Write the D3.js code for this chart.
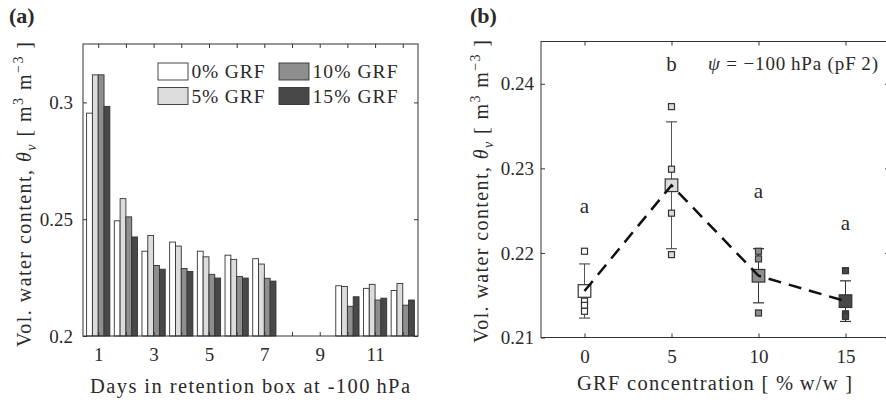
<!DOCTYPE html>
<html>
<head>
<meta charset="utf-8">
<script src="https://cdn.jsdelivr.net/npm/d3@7/dist/d3.min.js"></script>
<style>
  html, body { margin: 0; padding: 0; background: #fff; }
  svg { display: block; }
  text { font-family: "Liberation Serif", "DejaVu Serif", serif; fill: #2a2a2a; }
</style>
</head>
<body>
<svg id="chart" width="886" height="400"></svg>
<script>
// ---- Panel (a): volumetric water content per day ----
const days = [1, 2, 3, 4, 5, 6, 7, 8, 9, 10, 11, 12];
const seriesNames = ["0% GRF", "5% GRF", "10% GRF", "15% GRF"];
const grf0  = [0.2954, 0.2493, 0.2363, 0.2402, 0.2363, 0.2346, 0.2331, null, null, 0.2215, 0.2204, 0.2195];
const grf5  = [0.3118, 0.2588, 0.2430, 0.2385, 0.2339, 0.2328, 0.2308, null, null, 0.2212, 0.2221, 0.2225];
const grf10 = [0.3118, 0.2510, 0.2302, 0.2289, 0.2264, 0.2255, 0.2247, null, null, 0.2127, 0.2154, 0.2132];
const grf15 = [0.2983, 0.2424, 0.2286, 0.2276, 0.2248, 0.2248, 0.2235, null, null, 0.2168, 0.2162, 0.2154];
const dayTickLabels = [1, 3, 5, 7, 9, 11];
const thetaTicksA = [0.2, 0.25, 0.3];

// ---- Panel (b): water content at -100 hPa vs GRF concentration ----
const concentrations = [0, 5, 10, 15];
const replicates = [
  [0.2202, 0.2143, 0.2138, 0.2131],
  [0.2373, 0.2299, 0.2247, 0.2198],
  [0.2202, 0.2193, 0.2170, 0.2129],
  [0.2179, 0.2143, 0.2128, 0.2125]
];
const means = [0.2155, 0.2280, 0.2173, 0.2143];
const stdDevs = [0.0032, 0.0075, 0.0032, 0.0024];
const groupLetters = ["a", "b", "a", "a"];
const thetaTicksB = [0.21, 0.22, 0.23, 0.24];
const concTicks = [0, 5, 10, 15];

const fills = ["#ffffff", "#dcdcdc", "#8e8e8e", "#484848"];
const ink = "#333";

const svg = d3.select("#chart");

// rich text helper: pieces of [text, style] where style in {"", "i", "isub", "sup"}
function richText(sel, pieces, size) {
  let shift = 0;
  pieces.forEach(([t, st]) => {
    const ts = sel.append("tspan").text(t);
    let target = 0, fs = size;
    if (st === "isub") { target = size * 0.25; fs = size * 0.7; }
    if (st === "sup") { target = -size * 0.42; fs = size * 0.7; }
    ts.attr("font-size", fs);
    if (st === "i" || st === "isub") ts.attr("font-style", "italic");
    if (target !== shift) { ts.attr("dy", target - shift); shift = target; }
  });
}

function styleAxis(g, size) {
  g.select(".domain").remove();
  g.selectAll(".tick line").attr("stroke", ink);
  g.selectAll(".tick text").attr("font-size", size || 19).attr("fill", "#2a2a2a")
    .attr("font-family", "Liberation Serif, serif");
}

// ================= Panel (a) =================
const ax = { left: 83, right: 418, top: 44, bottom: 336 };
const xA = d3.scaleLinear().domain([0.45, 12.55]).range([ax.left, ax.right]);
const yA = d3.scaleLinear().domain([0.2, 0.325]).range([ax.bottom, ax.top]);
const barW = 0.21;
const seriesA = [grf0, grf5, grf10, grf15];

const gA = svg.append("g");
seriesA.forEach((vals, si) => {
  gA.append("g").selectAll("rect")
    .data(days.map((d, i) => ({ d, v: vals[i] })).filter(o => o.v !== null))
    .join("rect")
    .attr("x", o => xA(o.d + (si - 2) * barW))
    .attr("width", xA(barW) - xA(0))
    .attr("y", o => yA(o.v))
    .attr("height", o => yA(0.2) - yA(o.v))
    .attr("fill", fills[si])
    .attr("stroke", ink)
    .attr("stroke-width", 0.9);
});

gA.append("g").attr("transform", `translate(0,${ax.bottom})`)
  .call(d3.axisBottom(xA).tickValues(days).tickSizeInner(-4).tickSizeOuter(0).tickPadding(12)
    .tickFormat(d => dayTickLabels.includes(d) ? d : ""))
  .call(g => styleAxis(g, 19));
gA.append("g").attr("transform", `translate(0,${ax.top})`)
  .call(d3.axisTop(xA).tickValues(days).tickSizeInner(-4).tickSizeOuter(0).tickFormat(""))
  .call(styleAxis);
gA.append("g").attr("transform", `translate(${ax.left},0)`)
  .call(d3.axisLeft(yA).tickValues(thetaTicksA).tickSizeInner(-4).tickSizeOuter(0).tickPadding(10)
    .tickFormat(d3.format("~g")))
  .call(g => styleAxis(g, 19));
gA.append("g").attr("transform", `translate(${ax.right},0)`)
  .call(d3.axisRight(yA).tickValues(thetaTicksA).tickSizeInner(-4).tickSizeOuter(0).tickFormat(""))
  .call(styleAxis);
gA.append("rect").attr("x", ax.left).attr("y", ax.top)
  .attr("width", ax.right - ax.left).attr("height", ax.bottom - ax.top)
  .attr("fill", "none").attr("stroke", ink).attr("stroke-width", 1);

// legend (2 x 2)
const legPos = [[158, 63], [158, 87.5], [279, 63], [279, 87.5]];
const legTextLen = [73, 73, 85, 85];
seriesNames.forEach((name, i) => {
  const [lx, ly] = legPos[i];
  gA.append("rect").attr("x", lx).attr("y", ly).attr("width", 30).attr("height", 17)
    .attr("fill", fills[i]).attr("stroke", ink).attr("stroke-width", 0.9);
  gA.append("text").attr("x", lx + 33.5).attr("y", ly + 15).attr("font-size", 19.5)
    .attr("textLength", legTextLen[i]).attr("lengthAdjust", "spacing").text(name);
});

gA.append("text").attr("x", 90).attr("y", 393)
  .attr("font-size", 20.5).attr("textLength", 320).attr("lengthAdjust", "spacing")
  .text("Days in retention box at -100\u2009hPa");

const ylabPieces = [["Vol.  water content, ", ""], ["θ", "i"], ["v", "isub"], ["  [ m", ""], ["3", "sup"], [" m", ""], ["−3", "sup"], [" ]", ""]];
const ylabA = gA.append("text").attr("transform", "translate(31,347) rotate(-90)")
  .attr("textLength", 305).attr("lengthAdjust", "spacing");
richText(ylabA, ylabPieces, 20);

svg.append("text").attr("x", 9).attr("y", 23).attr("font-size", 22).attr("font-weight", "bold").text("(a)");

// ================= Panel (b) =================
const bx = { left: 541, right: 889, top: 41.5, bottom: 337.5 };
const xB = d3.scaleLinear().domain([-2.5, 17.5]).range([bx.left, bx.right]);
const yB = d3.scaleLinear().domain([0.21, 0.245]).range([bx.bottom, bx.top]);
const gB = svg.append("g");

gB.append("g").attr("transform", `translate(0,${bx.bottom})`)
  .call(d3.axisBottom(xB).tickValues(concTicks).tickSizeInner(-4).tickSizeOuter(0).tickPadding(12))
  .call(g => styleAxis(g, 19));
gB.append("g").attr("transform", `translate(0,${bx.top})`)
  .call(d3.axisTop(xB).tickValues(concTicks).tickSizeInner(-4).tickSizeOuter(0).tickFormat(""))
  .call(styleAxis);
gB.append("g").attr("transform", `translate(${bx.left},0)`)
  .call(d3.axisLeft(yB).tickValues(thetaTicksB).tickSizeInner(-4).tickSizeOuter(0).tickPadding(7)
    .tickFormat(d3.format(".2f")))
  .call(g => styleAxis(g, 19));
gB.append("g").attr("transform", `translate(${bx.right},0)`)
  .call(d3.axisRight(yB).tickValues(thetaTicksB).tickSizeInner(-4).tickSizeOuter(0).tickFormat(""))
  .call(styleAxis);
gB.append("rect").attr("x", bx.left).attr("y", bx.top)
  .attr("width", bx.right - bx.left).attr("height", bx.bottom - bx.top)
  .attr("fill", "none").attr("stroke", ink).attr("stroke-width", 1);

// error bars (mean ± standard deviation)
concentrations.forEach((c, i) => {
  const cx = xB(c), y1 = yB(means[i] + stdDevs[i]), y2 = yB(means[i] - stdDevs[i]);
  const col = i < 2 ? "#555" : "#333";
  gB.append("line").attr("x1", cx).attr("x2", cx).attr("y1", y1).attr("y2", y2)
    .attr("stroke", col).attr("stroke-width", 1);
  [y1, y2].forEach(yy => gB.append("line").attr("x1", cx - 5.5).attr("x2", cx + 5.5)
    .attr("y1", yy).attr("y2", yy).attr("stroke", col).attr("stroke-width", 1.2));
});

// replicate measurements
concentrations.forEach((c, i) => {
  gB.append("g").selectAll("rect").data(replicates[i]).join("rect")
    .attr("x", xB(c) - 3).attr("y", v => yB(v) - 3)
    .attr("width", 6).attr("height", 6)
    .attr("fill", fills[i]).attr("stroke", ink).attr("stroke-width", 1.2);
});

// group means
gB.append("g").selectAll("rect").data(concentrations).join("rect")
  .attr("x", c => xB(c) - 6.3).attr("y", (c, i) => yB(means[i]) - 6.3)
  .attr("width", 12.6).attr("height", 12.6)
  .attr("fill", (c, i) => fills[i]).attr("stroke", ink).attr("stroke-width", 1.2);

// dashed trend through the means
gB.append("path")
  .attr("d", d3.line().x(c => xB(c)).y((c, i) => yB(means[i]))(concentrations))
  .attr("fill", "none").attr("stroke", "#111").attr("stroke-width", 2.5)
  .attr("stroke-dasharray", "13,8");

// significance letters above each error bar
gB.append("g").selectAll("text").data(concentrations).join("text")
  .attr("x", c => xB(c)).attr("y", (c, i) => yB(means[i] + stdDevs[i] + 0.006))
  .attr("text-anchor", "middle").attr("font-size", 21)
  .text((c, i) => groupLetters[i]);

const psi = gB.append("text").attr("x", 708).attr("y", 70)
  .attr("textLength", 170).attr("lengthAdjust", "spacing");
richText(psi, [["ψ", "i"], [" = −100\u2009hPa  (pF\u20092)", ""]], 19);

gB.append("text").attr("x", 577).attr("y", 390)
  .attr("font-size", 20.5).attr("textLength", 275).attr("lengthAdjust", "spacing")
  .text("GRF concentration  [ %\u2009w/w ]");

const ylabB = gB.append("text").attr("transform", "translate(488,343) rotate(-90)")
  .attr("textLength", 303).attr("lengthAdjust", "spacing");
richText(ylabB, ylabPieces, 20);

svg.append("text").attr("x", 470).attr("y", 23).attr("font-size", 22).attr("font-weight", "bold").text("(b)");
</script>
</body>
</html>
